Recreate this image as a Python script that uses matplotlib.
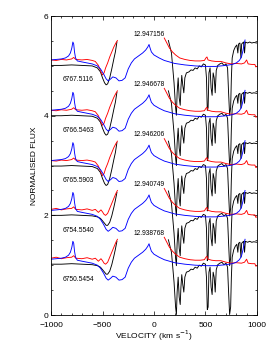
import matplotlib
matplotlib.use('Agg')
import matplotlib.pyplot as plt
from matplotlib.ticker import MultipleLocator
import numpy as np

plt.rcParams['font.family'] = ['Liberation Sans', 'DejaVu Sans']

# spectrum baselines (top to bottom) and their labels
offsets = [5.06, 4.05, 3.04, 2.04, 1.06]
dates = ['6767.5116', '6766.5463', '6765.5903', '6754.5540', '6750.5454']
phases = ['12.947156', '12.946678', '12.946206', '12.940749', '12.938768']

# blue profile, relative to baseline
blue_v = [-1000, -950, -900, -860, -830, -812, -798, -788, -780, -772, -762, -745,
          -700, -650, -600, -550, -520, -490, -465, -445, -420, -400, -370, -340,
          -310, -280, -250, -220, -190, -150, -110, -80, -60, -48, -38, -25, 0,
          50, 100, 150, 200, 300, 400, 500, 600, 700, 760, 800, 830, 850, 865, 878, 885]
blue_f = [0.06, 0.07, 0.08, 0.1, 0.14, 0.2, 0.3, 0.42, 0.38, 0.22, 0.1, 0.04,
          0.02, 0.0, -0.02, -0.06, -0.12, -0.22, -0.32, -0.36, -0.32, -0.28, -0.3, -0.36,
          -0.35, -0.3, -0.12, 0.0, 0.08, 0.14, 0.2, 0.26, 0.32, 0.37, 0.3, 0.22, 0.16,
          0.1, 0.05, 0.02, -0.01, -0.04, -0.06, -0.07, -0.07, -0.05, -0.03, 0.0, 0.05, 0.12, 0.25, 0.4, 0.46]

# red, blue-side part (upper three spectra / lower two spectra)
red_left_v = [-1000, -950, -900, -850, -800, -780, -760, -700, -650, -600, -570,
              -540, -515, -500, -485, -470, -450, -430, -410, -390, -370, -355]
red_left_top = [0.06, 0.05, 0.07, 0.06, 0.08, 0.11, 0.07, 0.06, 0.07, 0.05, 0.03,
                -0.05, -0.18, -0.24, -0.2, -0.1, 0.0, 0.12, 0.22, 0.32, 0.4, 0.45]
red_left_low = [0.08, 0.1, 0.07, 0.09, 0.1, 0.13, 0.08, 0.07, 0.09, 0.06, 0.08,
                0.02, 0.07, 0.03, -0.02, -0.04, 0.0, 0.1, 0.2, 0.3, 0.4, 0.46]

# red, red-side part
red_right_v = [100, 120, 150, 180, 210, 250, 300, 350, 400, 450, 490, 505, 515, 525,
               560, 600, 650, 700, 750, 800, 850, 880, 900, 915, 950, 980, 990, 1000]
red_right_f = [0.5, 0.42, 0.3, 0.22, 0.16, 0.1, 0.07, 0.05, 0.04, 0.04, 0.05, 0.1, 0.12, 0.06,
               0.04, 0.03, 0.03, 0.0, -0.02, -0.01, -0.02, 0.0, 0.06, -0.02, -0.03, -0.03, -0.08, -0.07]

# black, blue-side part
black_left_v = [-1000, -900, -800, -700, -600, -550, -520, -500, -480, -465, -450,
                -430, -410, -390, -375, -360]
black_left_top = [-0.05, -0.05, -0.04, -0.05, -0.06, -0.1, -0.18, -0.3, -0.4, -0.44, -0.42,
                  -0.3, -0.12, 0.08, 0.22, 0.42]
black_left_low = [-0.04, -0.04, -0.03, -0.04, -0.05, -0.07, -0.1, -0.15, -0.2, -0.24, -0.24,
                  -0.18, -0.05, 0.12, 0.26, 0.42]

# black, red-side part (telluric region)
black_right_v = [140, 170, 195, 210, 218, 225, 235, 245, 255, 262, 270, 280, 290, 300,
                 315, 340, 360, 380, 400, 420, 440, 460, 480, 500, 510, 518, 526, 534,
                 545, 555, 565, 575, 585, 595, 605, 620, 640, 660, 680, 700, 715, 725,
                 735, 745, 752, 760, 775, 790, 805, 815, 822, 835, 845, 852, 870, 880,
                 888, 910, 930, 950, 970, 1000]
black_right_f = [0.45, 0.2, -0.4, -0.9, -1.05, -0.6, -0.3, -0.7, -0.85, -0.5, -0.25, -0.45, -0.6, -0.3,
                 -0.2, -0.18, -0.14, -0.15, -0.1, -0.12, -0.06, -0.08, -0.02, -0.04, -0.3, -0.95, -0.9, -0.2,
                 -0.1, -0.5, -0.65, -0.2, -0.3, -0.6, -0.15, -0.05, -0.02, 0.0, -0.05, -0.02, -0.1, -0.6,
                 -1.05, -0.9, -0.3, 0.1, 0.25, 0.32, 0.36, 0.2, 0.38, 0.4, 0.1, 0.38, 0.42, 0.2,
                 0.42, 0.4, 0.42, 0.4, 0.41, 0.4]

fig = plt.figure(figsize=(2.73, 3.5), dpi=100)
ax = fig.add_axes([0.187, 0.1, 0.754, 0.854])

lw = 0.65
for i, base in enumerate(offsets):
    bl = black_left_top if i < 3 else black_left_low
    rl = red_left_top if i < 3 else red_left_low
    ax.plot(black_left_v, np.array(bl) + base, color='black', lw=lw)
    ax.plot(black_right_v, np.array(black_right_f) + base, color='black', lw=lw)
    ax.plot(red_left_v, np.array(rl) + base, color='red', lw=lw)
    ax.plot(red_right_v, np.array(red_right_f) + base, color='red', lw=lw)
    ax.plot(blue_v, np.array(blue_f) + base, color='blue', lw=lw)
    ax.text(-890, base - 0.34, dates[i], fontsize=4.8, va='center', ha='left')
    ax.text(-45, base + 0.58, phases[i], fontsize=4.8, va='center', ha='center')

ax.set_xlim(-1000, 1000)
ax.set_ylim(0, 6)
ax.xaxis.set_major_locator(MultipleLocator(500))
ax.xaxis.set_minor_locator(MultipleLocator(100))
ax.yaxis.set_major_locator(MultipleLocator(2))
ax.yaxis.set_minor_locator(MultipleLocator(0.5))
ax.tick_params(which='both', direction='in', top=True, right=True, labelsize=6, width=0.5)
ax.tick_params(axis='x', pad=5)
ax.tick_params(axis='y', pad=2)
ax.tick_params(which='major', length=3)
ax.tick_params(which='minor', length=1.5)
for s in ax.spines.values():
    s.set_linewidth(0.6)

ax.set_xlabel('VELOCITY (km s$^{-1}$)', fontsize=6, labelpad=0)
ax.set_ylabel('NORMALISED FLUX', fontsize=6, labelpad=4)

plt.savefig('out.png', dpi=100)
plt.close()
